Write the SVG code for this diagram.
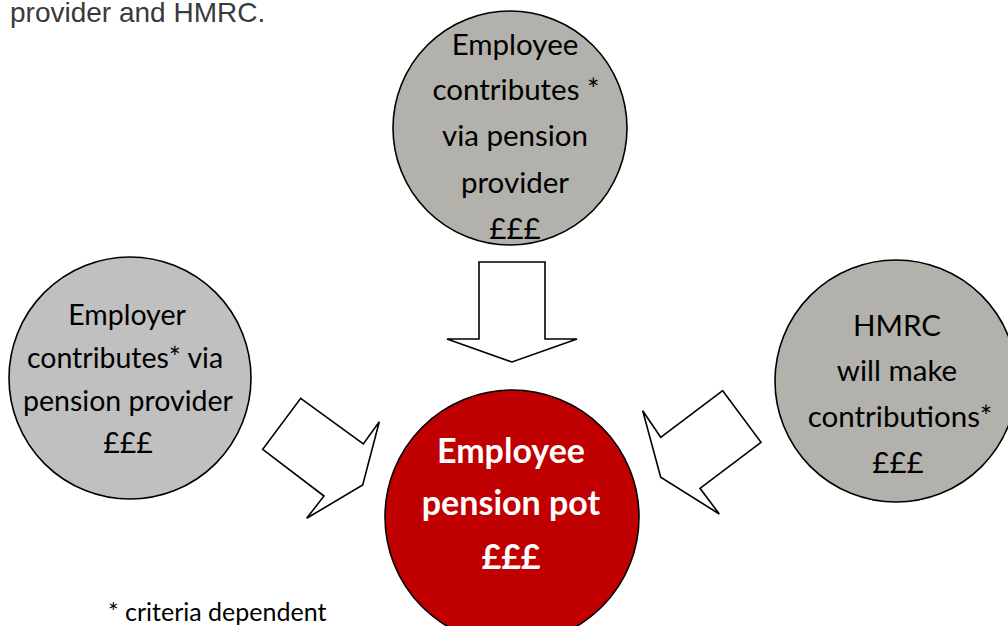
<svg xmlns="http://www.w3.org/2000/svg" width="1008" height="626" viewBox="0 0 1008 626">
  <style>
    .bubble { stroke: #000; stroke-width: 1.6; }
    .grey { fill: #B2B1AB; }
    .silver { fill: #C0C0C0; }
    .pot { fill: #C00000; }
    .label { font-family: Lato, "Open Sans", sans-serif; font-size: 29.5px; fill: #000; text-anchor: middle; }
    .small { font-size: 28.5px; }
    .pot-label { font-family: Lato, "Open Sans", sans-serif; font-size: 34px; font-weight: bold; fill: #fff; text-anchor: middle; }
    .arrow { fill: #fff; stroke: #000; stroke-width: 1.6; stroke-linejoin: miter; }
    .intro { font-family: "Liberation Sans", Arial, sans-serif; font-size: 28px; fill: #3a3a3a; }
    .note { font-family: Lato, "Open Sans", sans-serif; font-size: 25px; fill: #000; }
  </style>

  <text class="intro" x="10" y="22">provider and HMRC.</text>

  <!-- block arrows pointing into the pension pot -->
  <g id="connectors">
    <polygon class="arrow" points="479,262 545,262 545,339 577,339 512,362 447,339 479,339"/>
    <polygon class="arrow" points="300.7,398.3 363.3,444 379.3,421.7 362.7,485 306.7,518.3 324,496 262.7,449.3"/>
    <polygon class="arrow" points="722.7,390.7 761,442.3 700,488.3 719.3,514 660.7,477.3 642.7,410.7 660.7,437.3"/>
  </g>

  <g id="employee">
    <circle class="bubble grey" cx="510" cy="128" r="117"/>
    <text class="label" x="515" y="55">Employee</text>
    <text class="label" x="516" y="100">contributes *</text>
    <text class="label" x="515" y="146">via pension</text>
    <text class="label" x="515" y="193">provider</text>
    <text class="label" x="515" y="239">£££</text>
  </g>

  <g id="employer">
    <circle class="bubble silver" cx="130" cy="378" r="121"/>
    <text class="label small" x="127" y="325">Employer</text>
    <text class="label small" x="125" y="368">contributes* via</text>
    <text class="label small" x="128" y="411">pension provider</text>
    <text class="label small" x="128" y="453">£££</text>
  </g>

  <g id="hmrc">
    <circle class="bubble grey" cx="896" cy="381" r="121"/>
    <text class="label" x="897" y="336">HMRC</text>
    <text class="label" x="897" y="381">will make</text>
    <text class="label" x="900" y="427">contributions*</text>
    <text class="label" x="898" y="473">£££</text>
  </g>

  <g id="pension-pot">
    <circle class="bubble pot" cx="512" cy="517" r="127"/>
    <text class="pot-label" x="511" y="463">Employee</text>
    <text class="pot-label" x="511" y="515">pension pot</text>
    <text class="pot-label" x="511" y="569">£££</text>
  </g>

  <text class="note" x="108" y="621">* criteria dependent</text>
</svg>
